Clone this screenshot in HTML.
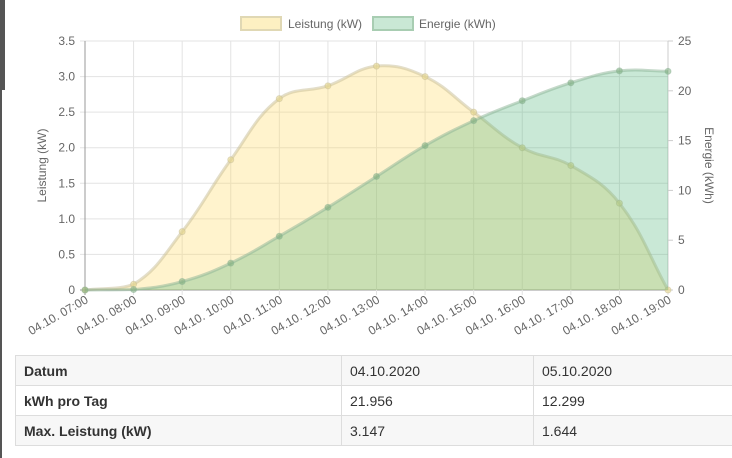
<!DOCTYPE html>
<html><head><meta charset="utf-8"><style>
body{margin:0;width:732px;height:458px;background:#fff;font-family:"Liberation Sans",sans-serif;position:relative;overflow:hidden}
#edge{position:absolute;left:0;top:0;width:2px;height:458px;background:#555}
#edge2{position:absolute;left:0;top:0;width:5px;height:90px;background:#555}
table{position:absolute;left:15px;top:355px;width:735px;border-collapse:collapse;font-size:14px;color:#333}
td{border:1px solid #ddd;height:30px;padding:0 8px;box-sizing:border-box}
tr.s td{background:#f7f7f7}
td.h{font-weight:bold;width:326px}
td.c{width:192px}
</style></head><body>
<div id="edge"></div>
<div id="edge2"></div>
<svg id="chart" width="732" height="345" style="position:absolute;left:0;top:0"></svg>
<table>
<tr class="s"><td class="h">Datum</td><td class="c">04.10.2020</td><td>05.10.2020</td></tr>
<tr><td class="h">kWh pro Tag</td><td class="c">21.956</td><td>12.299</td></tr>
<tr class="s"><td class="h">Max. Leistung (kW)</td><td class="c">3.147</td><td>1.644</td></tr>
</table>
<script>
const categories=["04.10. 07:00","04.10. 08:00","04.10. 09:00","04.10. 10:00","04.10. 11:00","04.10. 12:00","04.10. 13:00","04.10. 14:00","04.10. 15:00","04.10. 16:00","04.10. 17:00","04.10. 18:00","04.10. 19:00"];
const leistung=[0,0.08,0.82,1.83,2.69,2.87,3.147,3.0,2.5,2.0,1.75,1.22,0];
const energie=[0,0.05,0.85,2.7,5.4,8.3,11.4,14.5,17.0,19.0,20.8,22.0,21.956];
const leftTicks=[0,0.5,1.0,1.5,2.0,2.5,3.0,3.5];
const rightTicks=[0,5,10,15,20,25];
const svg=document.getElementById('chart');const NS="http://www.w3.org/2000/svg";
const X0=85,X1=668,Y0=290,Y1=41;
const xs=i=>X0+(X1-X0)*i/(categories.length-1);
const yl=v=>Y0-(Y0-Y1)*v/3.5;
const yr=v=>Y0-(Y0-Y1)*v/25;
function mk(t,a,p){const e=document.createElementNS(NS,t);for(const k in a)e.setAttribute(k,a[k]);(p||svg).appendChild(e);return e;}
leftTicks.forEach(v=>{const l=mk('line',{x1:X0-5,x2:X1,y1:yl(v),y2:yl(v),stroke:v===0?'#999':'#e3e3e3'});

const t=mk('text',{x:X0-10,y:yl(v)+4,'text-anchor':'end','font-size':12,fill:'#666'});t.textContent=v===0?'0':v.toFixed(1);
});
rightTicks.forEach(v=>{const l=mk('line',{x1:X1,x2:X1+5,y1:yr(v),y2:yr(v),stroke:'#ccc'});

const t=mk('text',{x:X1+10,y:yr(v)+4,'font-size':12,fill:'#666'});t.textContent=v;
});
categories.forEach((c,i)=>{const l=mk('line',{x1:xs(i),x2:xs(i),y1:Y1,y2:Y0+5,stroke:i===0?'#999':'#e3e3e3'});

const t=mk('text',{x:0,y:0,'text-anchor':'end','font-size':12,fill:'#666',transform:`translate(${xs(i)+4},${Y0+12}) rotate(-30)`});t.textContent=c;
});
mk('line',{x1:X1,x2:X1,y1:Y1,y2:Y0,stroke:'#ccc'});
function path(vals,yf){const p=vals.map((v,i)=>[xs(i),yf(v)]);const T=0.4;let d=`M${p[0][0]},${p[0][1]}`;
const cps=p.map((pt,i)=>{const pr=p[Math.max(0,i-1)],nx=p[Math.min(p.length-1,i+1)];
const d01=Math.hypot(pt[0]-pr[0],pt[1]-pr[1]),d12=Math.hypot(nx[0]-pt[0],nx[1]-pt[1]);
let fa=d01/(d01+d12)||0,fb=d12/(d01+d12)||0;fa*=T;fb*=T;
return{p:[pt[0]-fa*(nx[0]-pr[0]),pt[1]-fa*(nx[1]-pr[1])],n:[pt[0]+fb*(nx[0]-pr[0]),pt[1]+fb*(nx[1]-pr[1])]};});
for(let i=1;i<p.length;i++){let a=cps[i-1].n,b=cps[i].p;a=[a[0],Math.min(Y0,a[1])];b=[b[0],Math.min(Y0,b[1])];d+=`C${a[0]},${a[1]} ${b[0]},${b[1]} ${p[i][0]},${p[i][1]}`;}
return{d,p};}
function series(vals,yf,fill,stroke,pt,name){const r=path(vals,yf);
const a=mk('path',{d:r.d+`L${X1},${Y0}L${X0},${Y0}Z`,fill:fill});
const l=mk('path',{d:r.d,fill:'none',stroke:stroke,'stroke-width':3});
r.p.forEach(q=>{const c=mk('circle',{cx:q[0],cy:q[1],r:3,fill:pt,stroke:stroke});});}
series(leistung,yl,'rgba(255,218,100,0.32)','rgba(200,190,150,0.5)','rgba(230,215,140,0.6)','leistung');
series(energie,yr,'rgba(75,180,120,0.3)','rgba(140,180,150,0.5)','rgba(120,170,120,0.5)','energie');
const lb=mk('rect',{x:241,y:17,width:40,height:13,fill:'#fdf0c2',stroke:'#e0d8b4','stroke-width':2});
const lt=mk('text',{x:288,y:28,'font-size':12,fill:'#666'});lt.textContent='Leistung (kW)';
const eb=mk('rect',{x:373,y:17,width:40,height:13,fill:'#c9e8d5',stroke:'#a8cdb2','stroke-width':2});
const et=mk('text',{x:419,y:28,'font-size':12,fill:'#666'});et.textContent='Energie (kWh)';
const ya=mk('text',{x:0,y:0,'font-size':12,fill:'#666','text-anchor':'middle',transform:`translate(46,${(Y0+Y1)/2}) rotate(-90)`});ya.textContent='Leistung (kW)';
const yb=mk('text',{x:0,y:0,'font-size':12,fill:'#666','text-anchor':'middle',transform:`translate(705,${(Y0+Y1)/2}) rotate(90)`});yb.textContent='Energie (kWh)';
</script>
</body></html>
